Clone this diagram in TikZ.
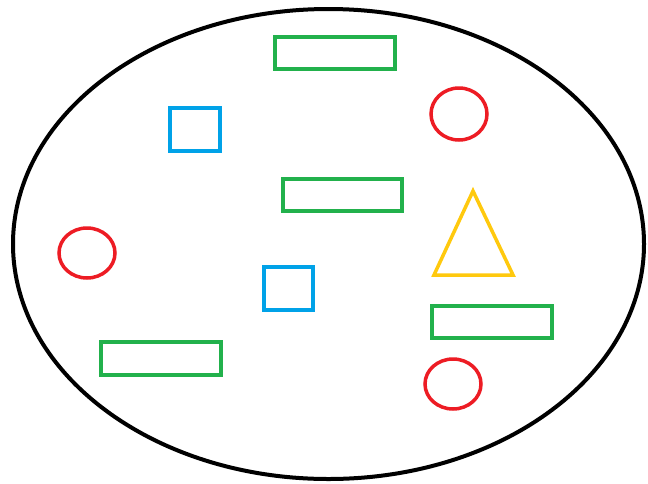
\documentclass[tikz,border=0pt]{standalone}
\begin{document}
\begin{tikzpicture}[x=1pt,y=-1pt,
  pgreen/.style={draw={rgb,255:red,34;green,177;blue,76},line width=3.5pt},
  pblue/.style={draw={rgb,255:red,0;green,162;blue,232},line width=3.5pt},
  pred/.style={draw={rgb,255:red,237;green,28;blue,36},line width=3.5pt},
  pyellow/.style={draw={rgb,255:red,255;green,201;blue,14},line width=3.5pt,line join=miter},
  pblack/.style={draw=black,line width=4pt}]
\useasboundingbox (0,0) rectangle (648,483);
\draw[pblack] (328.5,244) ellipse [x radius=315.5, y radius=235];
% green rectangles
\draw[pgreen] (275,37) rectangle (395,69);
\draw[pgreen] (283,179) rectangle (402,211);
\draw[pgreen] (101,342) rectangle (221,375);
\draw[pgreen] (432,306) rectangle (552,338);
% blue squares
\draw[pblue] (170,108) rectangle (220,151);
\draw[pblue] (264,267) rectangle (313,310);
% red circles
\draw[pred] (459,114) ellipse [x radius=28, y radius=26];
\draw[pred] (87,253) ellipse [x radius=28, y radius=25];
\draw[pred] (453,384) ellipse [x radius=28, y radius=25];
% yellow triangle
\draw[pyellow] (473,191) -- (513,275) -- (434,275) -- cycle;
\end{tikzpicture}
\end{document}
